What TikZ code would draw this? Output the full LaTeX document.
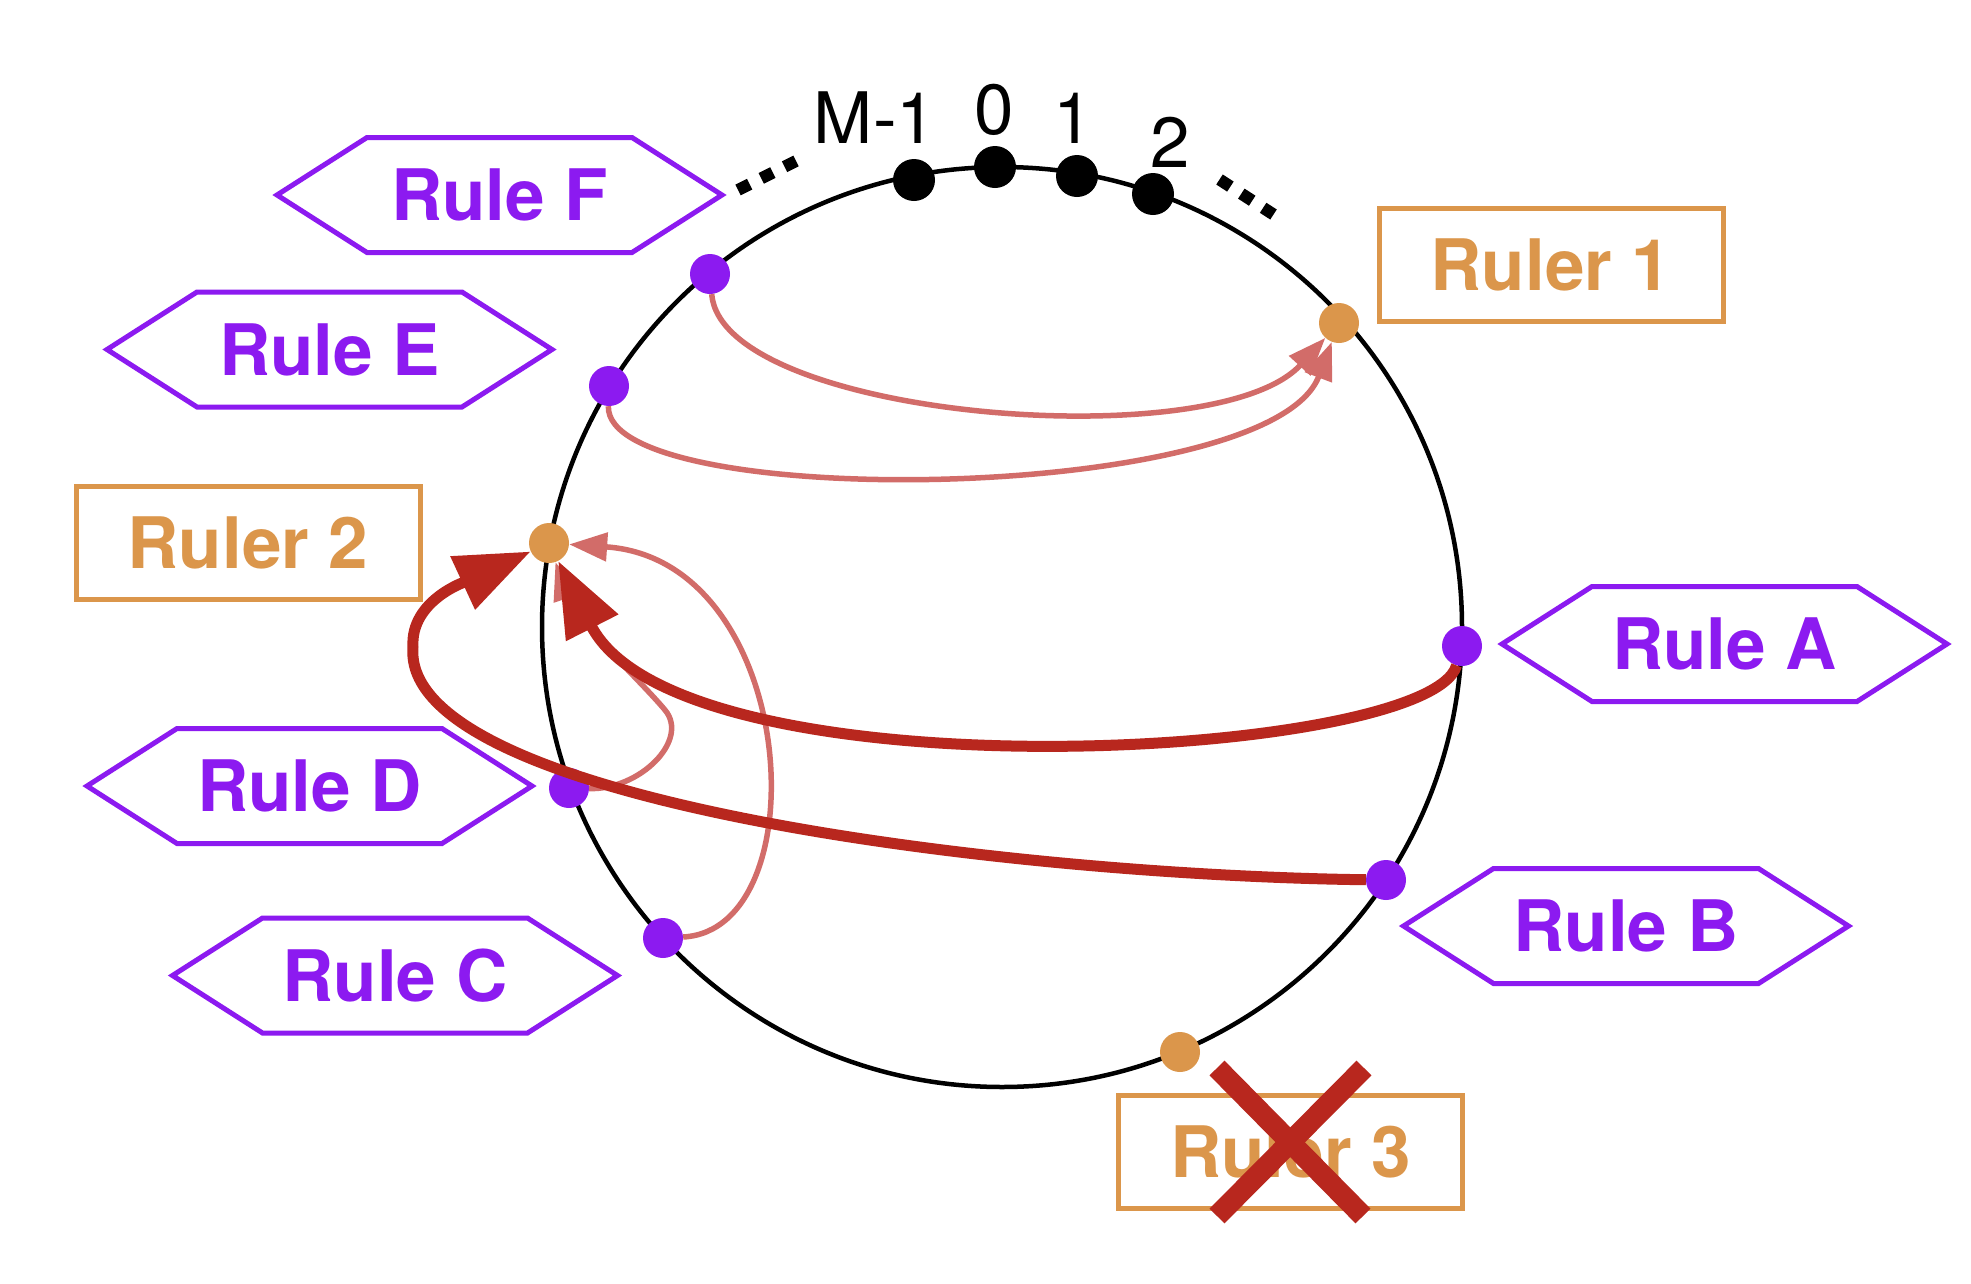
\documentclass[tikz,border=0pt]{standalone}
\usepackage{fontspec}
\setmainfont{TeX Gyre Heros}
\usetikzlibrary{arrows.meta}
\definecolor{rpurple}{HTML}{8C1AF0}
\definecolor{rorange}{HTML}{DB964B}
\definecolor{dred}{HTML}{B8271E}
\definecolor{lred}{HTML}{D26C69}
\tikzset{
  ring/.style={line width=4.5pt, draw=black},
  pdot/.style={circle, fill=rpurple, inner sep=0pt, minimum size=40pt},
  odot/.style={circle, fill=rorange, inner sep=0pt, minimum size=40pt},
  kdot/.style={circle, fill=black, inner sep=0pt, minimum size=42pt},
  ruletext/.style={text=rpurple, font=\fontsize{71}{80}\selectfont\bfseries, inner sep=0pt},
  hexline/.style={draw=rpurple, line width=5pt, line join=miter},
  rulerbox/.style={draw=rorange, line width=5pt, text=rorange, font=\fontsize{71}{80}\selectfont\bfseries, minimum width=344pt, minimum height=113pt, inner sep=0pt},
  numlabel/.style={font=\fontsize{71}{80}\selectfont, inner sep=0pt},
  lightarrow/.style={draw=lred, line width=5.5pt, -{Triangle[length=38pt,width=28pt]}},
  darkarrow/.style={draw=dred, line width=11pt, -{Triangle[length=75pt,width=56pt]}},
  ellip/.style={line width=12pt, dash pattern=on 13pt off 13pt},
  cross/.style={draw=dred, line width=21pt},
}
\newcommand\hexlabel[3]{%
  \node[ruletext] (#1) at (#2) {#3};
  \draw[hexline] ([xshift=-222.5pt]#1.center) -- ++(90,-57.5) -- ++(265,0) -- ++(90,57.5) -- ++(-90,57.5) -- ++(-265,0) -- cycle;
}
\begin{document}
\begin{tikzpicture}[x=1pt,y=-1pt]
\fill[white] (0,0) rectangle (1971,1283);
\useasboundingbox (0,0) rectangle (1971,1283);

% ring
\coordinate (ringc) at (1002,627);
\draw[ring] (ringc) circle[radius=460pt];

% top markers
\node[kdot] (kM) at (914,180) {};
\node[kdot] (k0) at (995,167) {};
\node[kdot] (k1) at (1077,176) {};
\node[kdot] (k2) at (1153,194) {};
\node[numlabel] (lM) at (875,118) {M-1};
\node[numlabel] (l0) at (994,110) {0};
\node[numlabel] (l1) at (1073,118) {1};
\node[numlabel] (l2) at (1170,142) {2};
\draw[ellip] (738,190) -- (796,161);
\draw[ellip] (1219.5,179.5) -- (1273.5,214.5);

% dots on ring
\node[pdot] (dF) at (710,274) {};
\node[pdot] (dE) at (609,386) {};
\node[pdot] (dD) at (569,788) {};
\node[pdot] (dC) at (663,938) {};
\node[pdot] (dA) at (1462,646) {};
\node[pdot] (dB) at (1386,880) {};
\node[odot] (dR1) at (1339,323) {};
\node[odot] (dR2) at (549,543) {};
\node[odot] (dR3) at (1180,1052) {};

% rule hexagons
\hexlabel{rF}{499.5,195}{Rule F}
\hexlabel{rE}{329.5,349.5}{Rule E}
\hexlabel{rD}{309.5,786}{Rule D}
\hexlabel{rC}{395,975.5}{Rule C}
\hexlabel{rA}{1724.5,644}{Rule A}
\hexlabel{rB}{1626,926}{Rule B}

% ruler boxes
\node[rulerbox] (R1) at (1551,264.5) {Ruler 1};
\node[rulerbox] (R2) at (248,542.5) {Ruler 2};
\node[rulerbox] (R3) at (1290.5,1151.5) {Ruler 3};

% light arrows
\draw[lightarrow] (dF) .. controls (722,418) and (1215,458) .. (dR1);
\draw[lightarrow] (dE) .. controls (605,512) and (1270,505) .. (dR1);
\draw[lightarrow] (dD) .. controls (640,790) and (690,740) .. (665,710) .. controls (640,680) and (575,620) .. (dR2);
\draw[lightarrow] (dC) .. controls (820,930) and (800,560) .. (dR2);

% dark arrows
\draw[darkarrow] (dA) .. controls (1430,760) and (680,800) .. (dR2);
\draw[darkarrow] (dB) .. controls (1000,875) and (400,800) .. (413,647) .. controls (410,600) and (467,581) .. (dR2);

% cross over Ruler 3
\draw[cross] (1217,1068) -- (1363,1216);
\draw[cross] (1364,1068) -- (1217,1216);
\end{tikzpicture}
\end{document}
